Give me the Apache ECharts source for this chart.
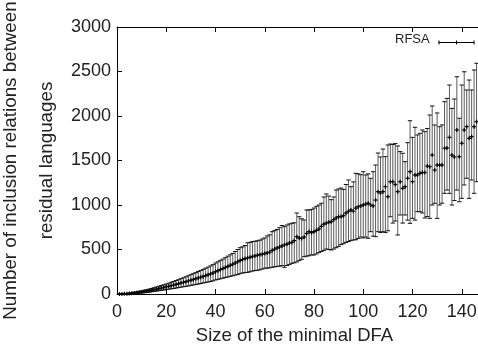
<!DOCTYPE html>
<html>
<head>
<meta charset="utf-8">
<script src="https://cdn.jsdelivr.net/npm/echarts@6/dist/echarts.min.js"></script>
<style>
html,body{margin:0;padding:0;background:#fff;}
#chart{width:478px;height:350px;}
</style>
</head>
<body>
<div id="chart"></div>
<script>
var sizes = [1,2,3,4,5,6,7,8,9,10,11,12,13,14,15,16,17,18,19,20,21,22,23,24,25,26,27,28,29,30,
31,32,33,34,35,36,37,38,39,40,41,42,43,44,45,46,47,48,49,50,51,52,53,54,55,56,57,58,59,60,
61,62,63,64,65,66,67,68,69,70,71,72,73,74,75,76,77,78,79,80,81,82,83,84,85,86,87,88,89,90,
91,92,93,94,95,96,97,98,99,100,101,102,103,104,105,106,107,108,109,110,111,112,113,114,115,116,117,118,119,120,
121,122,123,124,125,126,127,128,129,130,131,132,133,134,135,136,137,138,139,140,141,142,143,144,145,146];

var means = [0,1,2,4,6,9,12,15,19,23,
27,32,37,42,48,54,60,67,73,80,
87,94,101,108,116,124,131,139,147,155,
163,172,180,189,198,207,216,226,236,250,
262,274,286,298,310,322,335,348,362,376,
388,398,405,412,420,428,435,442,448,455,
462,470,490,505,517,528,540,552,560,573,
580,600,644,629,625,640,680,700,690,700,
715,730,760,785,797,805,812,835,855,868,
870,880,910,930,944,930,965,981,990,1000,
1010,1019,1000,990,1056,1150,1135,1150,1206,1094,
1262,1262,1230,1150,1262,1187,1206,1300,1375,1262,
1337,1337,1356,1365,1365,1438,1431,1561,1393,1449,
1449,1449,1637,1640,1760,1561,1540,1843,1543,1693,
1843,1880,1749,1768,1880,1936];

var lows = [0,0,0,1,2,4,6,8,10,13,
15,18,21,25,29,33,37,41,45,50,
54,58,62,67,72,77,82,86,91,97,
102,107,112,118,124,130,135,141,148,158,
165,171,178,185,192,198,205,212,220,228,
236,240,243,250,258,263,266,272,280,290,
290,295,300,305,310,312,318,300,320,330,
345,350,360,375,390,419,425,430,440,438,
450,465,478,490,505,500,495,505,520,535,
555,565,580,590,600,607,610,625,640,630,
640,626,700,650,644,700,690,700,690,710,
868,797,820,663,888,797,888,830,794,850,
830,925,925,910,854,870,850,1000,1019,850,
1000,1020,1131,1168,1131,1000,1050,1168,1037,1075,
1225,1300,1075,1281,1131,1262];

var highs = [1,2,4,7,10,14,19,24,29,35,
41,47,54,62,70,78,86,95,103,112,
121,131,141,151,161,172,182,193,205,217,
228,240,252,264,277,290,302,316,330,348,
362,378,392,408,425,440,456,478,500,520,
530,545,575,580,588,592,598,605,618,630,
652,665,700,712,725,745,770,756,775,787,
795,800,910,868,845,831,944,944,950,966,
985,1000,1020,1090,1124,1100,1060,1090,1168,1180,
1190,1175,1230,1281,1206,1260,1356,1350,1340,1374,
1337,1350,1300,1374,1449,1584,1540,1629,1543,1674,
1685,1680,1690,1663,1600,1581,1487,1700,1947,1760,
1873,1787,1805,1843,1824,1860,2011,2112,1899,2034,
1880,1900,2161,2198,2348,2085,2191,2441,1975,2348,
2497,2292,2404,2292,2517,2592];

var xTicks = [0,20,40,60,80,100,120,140];
var yTicks = [0,500,1000,1500,2000,2500,3000];
var seriesName = 'RFSA';

var rows = sizes.map(function(s,i){ return [s, lows[i], means[i], highs[i]]; });

var FONT = "'Liberation Sans', Arial, sans-serif";
var TXT = '#222';

var chart = echarts.init(document.getElementById('chart'), null, {renderer:'canvas'});

function renderBar(params, api){
  var x = api.value(0);
  var pLo = api.coord([x, api.value(1)]);
  var pMid = api.coord([x, api.value(2)]);
  var pHi = api.coord([x, api.value(3)]);
  var cw = 2.2, mw = 2;
  var vst = {stroke:'#333', lineWidth:0.8};
  var cst = {stroke:'#111', lineWidth:1};
  return {type:'group', children:[
    {type:'line', shape:{x1:pLo[0], y1:pLo[1], x2:pHi[0], y2:pHi[1]}, style:vst},
    {type:'line', shape:{x1:pLo[0]-cw, y1:pLo[1], x2:pLo[0]+cw, y2:pLo[1]}, style:cst},
    {type:'line', shape:{x1:pHi[0]-cw, y1:pHi[1], x2:pHi[0]+cw, y2:pHi[1]}, style:cst},
    {type:'line', shape:{x1:pMid[0]-mw, y1:pMid[1], x2:pMid[0]+mw, y2:pMid[1]}, style:{stroke:'#000', lineWidth:1.2}},
    {type:'line', shape:{x1:pMid[0], y1:pMid[1]-mw, x2:pMid[0], y2:pMid[1]+mw}, style:{stroke:'#000', lineWidth:1.2}}
  ]};
}

var option = {
  animation:false,
  backgroundColor:'#fff',
  grid:{left:117, top:27, width:362, height:267, containLabel:false, outerBoundsMode:'none'},
  xAxis:[{
    type:'value', min:0, max:147, interval:20, position:'bottom',
    name:'Size of the minimal DFA', nameLocation:'middle', nameGap:32, nameMoveOverlap:false,
    nameTextStyle:{fontFamily:FONT, fontSize:18.5, color:TXT, padding:[0,7,0,0]},
    axisLine:{show:true, onZero:false, lineStyle:{color:'#000', width:1}},
    axisTick:{show:true, inside:true, length:5, lineStyle:{color:'#000'}},
    axisLabel:{fontFamily:FONT, fontSize:18, color:TXT, margin:9, showMaxLabel:false, hideOverlap:false,
      formatter:function(v){ return xTicks.indexOf(v) >= 0 ? String(v) : ''; }},
    splitLine:{show:false}
  },{
    type:'value', min:0, max:147, interval:20, position:'top',
    axisLine:{show:true, onZero:false, lineStyle:{color:'#000', width:1}},
    axisTick:{show:true, inside:true, length:5, lineStyle:{color:'#000'}},
    axisLabel:{show:false},
    splitLine:{show:false}
  }],
  yAxis:[{
    type:'value', min:0, max:3000, interval:500,
    name:'Number of inclusion relations between\nresidual languages',
    nameLocation:'middle', nameRotate:90, nameGap:52, nameMoveOverlap:false,
    nameTextStyle:{fontFamily:FONT, fontSize:18.8, color:TXT, lineHeight:36},
    axisLine:{show:true, lineStyle:{color:'#000', width:1}},
    axisTick:{show:true, inside:true, length:5, lineStyle:{color:'#000'}},
    axisLabel:{fontFamily:FONT, fontSize:18, color:TXT, margin:6,
      formatter:function(v){ return yTicks.indexOf(v) >= 0 ? String(v) : ''; }},
    splitLine:{show:false}
  }],
  series:[{
    type:'custom', name:seriesName, xAxisIndex:0, yAxisIndex:0,
    renderItem:renderBar, data:rows, clip:false,
    encode:{x:0, y:[1,2,3]}
  }],
  graphic:[
    {type:'text', left:395, top:33, style:{text:seriesName, font:"13px 'Liberation Sans', Arial, sans-serif", fill:TXT}},
    {type:'group', left:436, top:38, children:[
      {type:'line', shape:{x1:0, y1:2, x2:36, y2:2}, style:{stroke:'#000', lineWidth:1}},
      {type:'line', shape:{x1:0.5, y1:0, x2:0.5, y2:4}, style:{stroke:'#000', lineWidth:1}},
      {type:'line', shape:{x1:35.5, y1:0, x2:35.5, y2:4}, style:{stroke:'#000', lineWidth:1}},
      {type:'line', shape:{x1:18, y1:0, x2:18, y2:4}, style:{stroke:'#000', lineWidth:1}}
    ]}
  ]
};
chart.setOption(option);
</script>
</body>
</html>
